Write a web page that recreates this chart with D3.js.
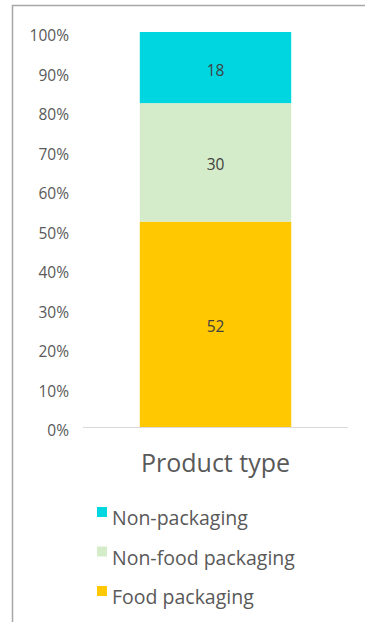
<!DOCTYPE html>
<html>
<head>
<meta charset="utf-8">
<script src="https://cdn.jsdelivr.net/npm/d3@7/dist/d3.min.js"></script>
<style>
  html, body { margin: 0; padding: 0; background: #fff; }
  svg { display: block; font-family: "Segoe UI", "Open Sans", "Noto Sans", sans-serif; }
</style>
</head>
<body>
<svg id="chart" width="365" height="622"></svg>
<script>
// Share of items by product type (stacked to 100%)
const categories = ["Product type"];
const seriesNames = ["Food packaging", "Non-food packaging", "Non-packaging"];
const seriesValues = [52, 30, 18];
const seriesColors = ["#ffc800", "#d5ecca", "#00d6e0"];
const tickValues = [0, 10, 20, 30, 40, 50, 60, 70, 80, 90, 100];
const legendOrder = ["Non-packaging", "Non-food packaging", "Food packaging"];

const FONT = "'Segoe UI','Open Sans','Noto Sans',sans-serif";
const svg = d3.select("#chart");

// frame lines
svg.append("line").attr("x1", 12.5).attr("x2", 12.5).attr("y1", 5).attr("y2", 622)
  .attr("stroke", "#a6a6a6").attr("stroke-width", 1.5);
svg.append("line").attr("x1", 12).attr("x2", 365).attr("y1", 5.5).attr("y2", 5.5)
  .attr("stroke", "#a6a6a6").attr("stroke-width", 1.5);

const y = d3.scaleLinear().domain([0, 100]).range([427, 32]);
const x = d3.scaleBand().domain(categories).range([83, 348]).paddingInner(0).paddingOuter(0.375);

// y axis labels (no axis line)
const yAxis = d3.axisLeft(y).tickValues(tickValues).tickFormat(d => d + "%").tickSize(0).tickPadding(0);
const gy = svg.append("g").attr("transform", "translate(69,0)").call(yAxis);
gy.select(".domain").remove();
gy.selectAll("text").attr("fill", "#595959").attr("font-size", 15.5).attr("dy", "0.55em")
  .attr("font-family", FONT);

// stacked segments
const stackData = [Object.fromEntries(seriesNames.map((n, i) => [n, seriesValues[i]]))];
const stack = d3.stack().keys(seriesNames)(stackData);

const seg = svg.append("g").selectAll("g").data(stack).join("g");
seg.append("rect")
  .attr("x", x(categories[0]))
  .attr("width", x.bandwidth())
  .attr("y", d => y(d[0][1]))
  .attr("height", d => y(d[0][0]) - y(d[0][1]))
  .attr("fill", (d, i) => seriesColors[i]);
seg.append("text")
  .attr("x", x(categories[0]) + x.bandwidth() / 2)
  .attr("y", d => (y(d[0][0]) + y(d[0][1])) / 2)
  .attr("dy", "0.52em")
  .attr("text-anchor", "middle")
  .attr("fill", "#404040")
  .attr("font-size", 15.5)
  .text((d, i) => seriesValues[i]);

// baseline
svg.append("line").attr("x1", 83).attr("x2", 348).attr("y1", y(0) + 0.5).attr("y2", y(0) + 0.5)
  .attr("stroke", "#d9d9d9").attr("stroke-width", 1);

// category label
const xAxis = d3.axisBottom(x).tickSize(0).tickPadding(0);
const gx = svg.append("g").attr("transform", "translate(0,472)").call(xAxis);
gx.select(".domain").remove();
gx.selectAll("text").attr("fill", "#595959").attr("font-size", 25).attr("y", 0).attr("dy", 0)
  .attr("font-family", FONT);

// legend
const legendY = d3.scalePoint().domain(legendOrder).range([525, 604]);
const lg = svg.append("g").selectAll("g").data(legendOrder).join("g")
  .attr("transform", d => `translate(97,${legendY(d)})`);
lg.append("rect").attr("x", 0).attr("y", -18).attr("width", 10).attr("height", 10)
  .attr("fill", d => seriesColors[seriesNames.indexOf(d)]);
lg.append("text").attr("x", 15).attr("y", 0)
  .attr("fill", "#595959").attr("font-size", 19.5).text(d => d);
</script>
</body>
</html>
